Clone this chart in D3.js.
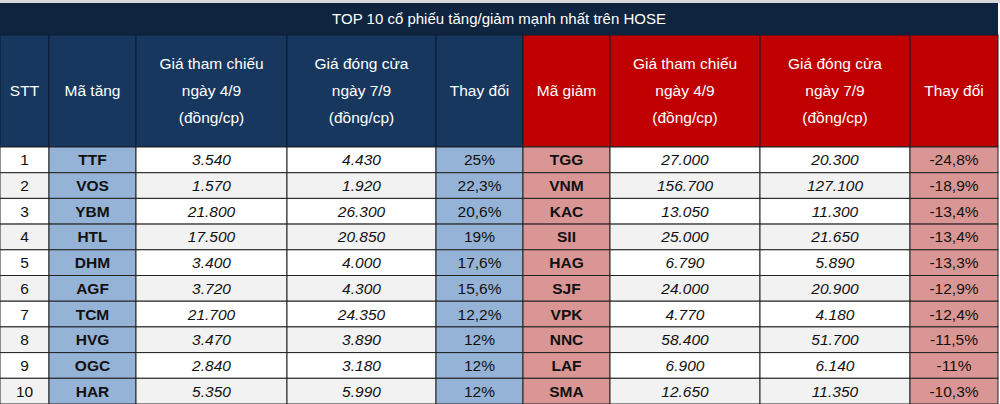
<!DOCTYPE html>
<html><head><meta charset="utf-8">
<script src="https://cdn.jsdelivr.net/npm/d3@7"></script>
<style>body{margin:0;background:#fff}svg{display:block}</style>
</head><body>
<svg id="chart" width="1000" height="404"></svg>
<script>
var title = "TOP 10 cổ phiếu tăng/giảm mạnh nhất trên HOSE";
var headers = ["STT", "Mã tăng", "Giá tham chiếu\nngày 4/9\n(đồng/cp)", "Giá đóng cửa\nngày 7/9\n(đồng/cp)", "Thay đổi",
  "Mã giảm", "Giá tham chiếu\nngày 4/9\n(đồng/cp)", "Giá đóng cửa\nngày 7/9\n(đồng/cp)", "Thay đổi"];
var upCodes = ["TTF", "VOS", "YBM", "HTL", "DHM", "AGF", "TCM", "HVG", "OGC", "HAR"];
var upRef = ["3.540", "1.570", "21.800", "17.500", "3.400", "3.720", "21.700", "3.470", "2.840", "5.350"];
var upClose = ["4.430", "1.920", "26.300", "20.850", "4.000", "4.300", "24.350", "3.890", "3.180", "5.990"];
var upChange = ["25%", "22,3%", "20,6%", "19%", "17,6%", "15,6%", "12,2%", "12%", "12%", "12%"];
var downCodes = ["TGG", "VNM", "KAC", "SII", "HAG", "SJF", "VPK", "NNC", "LAF", "SMA"];
var downRef = ["27.000", "156.700", "13.050", "25.000", "6.790", "24.000", "4.770", "58.400", "6.900", "12.650"];
var downClose = ["20.300", "127.100", "11.300", "21.650", "5.890", "20.900", "4.180", "51.700", "6.140", "11.350"];
var downChange = ["-24,8%", "-18,9%", "-13,4%", "-13,4%", "-13,3%", "-12,9%", "-12,4%", "-11,5%", "-11%", "-10,3%"];

var svg = d3.select("#chart");
var font = "'Liberation Sans', Arial, sans-serif";
var colX = [0, 49, 136, 287, 436, 523, 610, 760, 910, 998];
var rowY = d3.scaleLinear().domain([0, 10]).range([147, 404]);

// spreadsheet strip at top
svg.append("rect").attr("x", 0).attr("y", 0).attr("width", 1000).attr("height", 3).attr("fill", "#d9d9d9");

// title
svg.append("rect").attr("x", 0).attr("y", 3).attr("width", 998).attr("height", 32).attr("fill", "#0f243e");
svg.append("text").attr("x", 499).attr("y", 24).attr("text-anchor", "middle")
  .attr("fill", "#fff").attr("font-family", font).attr("font-size", 15).text(title);

// header cells
headers.forEach(function(h, i) {
  var fill = i >= 5 ? "#c00000" : "#17375e";
  svg.append("rect").attr("x", colX[i]).attr("y", 35).attr("width", colX[i + 1] - colX[i]).attr("height", 112)
    .attr("fill", fill).attr("stroke", "#0c1d33").attr("stroke-width", 1);
  var lines = h.split("\n");
  var t = svg.append("text").attr("text-anchor", "middle").attr("fill", "#fff")
    .attr("font-family", font).attr("font-size", 15.5);
  lines.forEach(function(l, k) {
    t.append("tspan").attr("x", (colX[i] + colX[i + 1]) / 2)
      .attr("y", 96 + (k - (lines.length - 1) / 2) * 27).text(l);
  });
});

// body rows
var cols = [upCodes.map(function(d, i) { return String(i + 1); }), upCodes, upRef, upClose, upChange,
  downCodes, downRef, downClose, downChange];
d3.range(10).forEach(function(r) {
  var y0 = rowY(r), y1 = rowY(r + 1);
  cols.forEach(function(col, c) {
    var fill = r % 2 ? "#f2f2f2" : "#ffffff";
    if (c === 1 || c === 4) fill = "#95b3d7";
    if (c === 5 || c === 8) fill = "#da9694";
    svg.append("rect").attr("x", colX[c]).attr("y", y0).attr("width", colX[c + 1] - colX[c]).attr("height", y1 - y0)
      .attr("fill", fill).attr("stroke", "#222").attr("stroke-width", 1);
    svg.append("text").attr("x", (colX[c] + colX[c + 1]) / 2).attr("y", (y0 + y1) / 2 + 5.5)
      .attr("text-anchor", "middle").attr("fill", "#111").attr("font-family", font).attr("font-size", 15.5)
      .attr("font-weight", (c === 1 || c === 5) ? "bold" : "normal")
      .attr("font-style", (c === 2 || c === 3 || c === 6 || c === 7) ? "italic" : "normal")
      .text(col[r]);
  });
});
</script>
</body></html>
